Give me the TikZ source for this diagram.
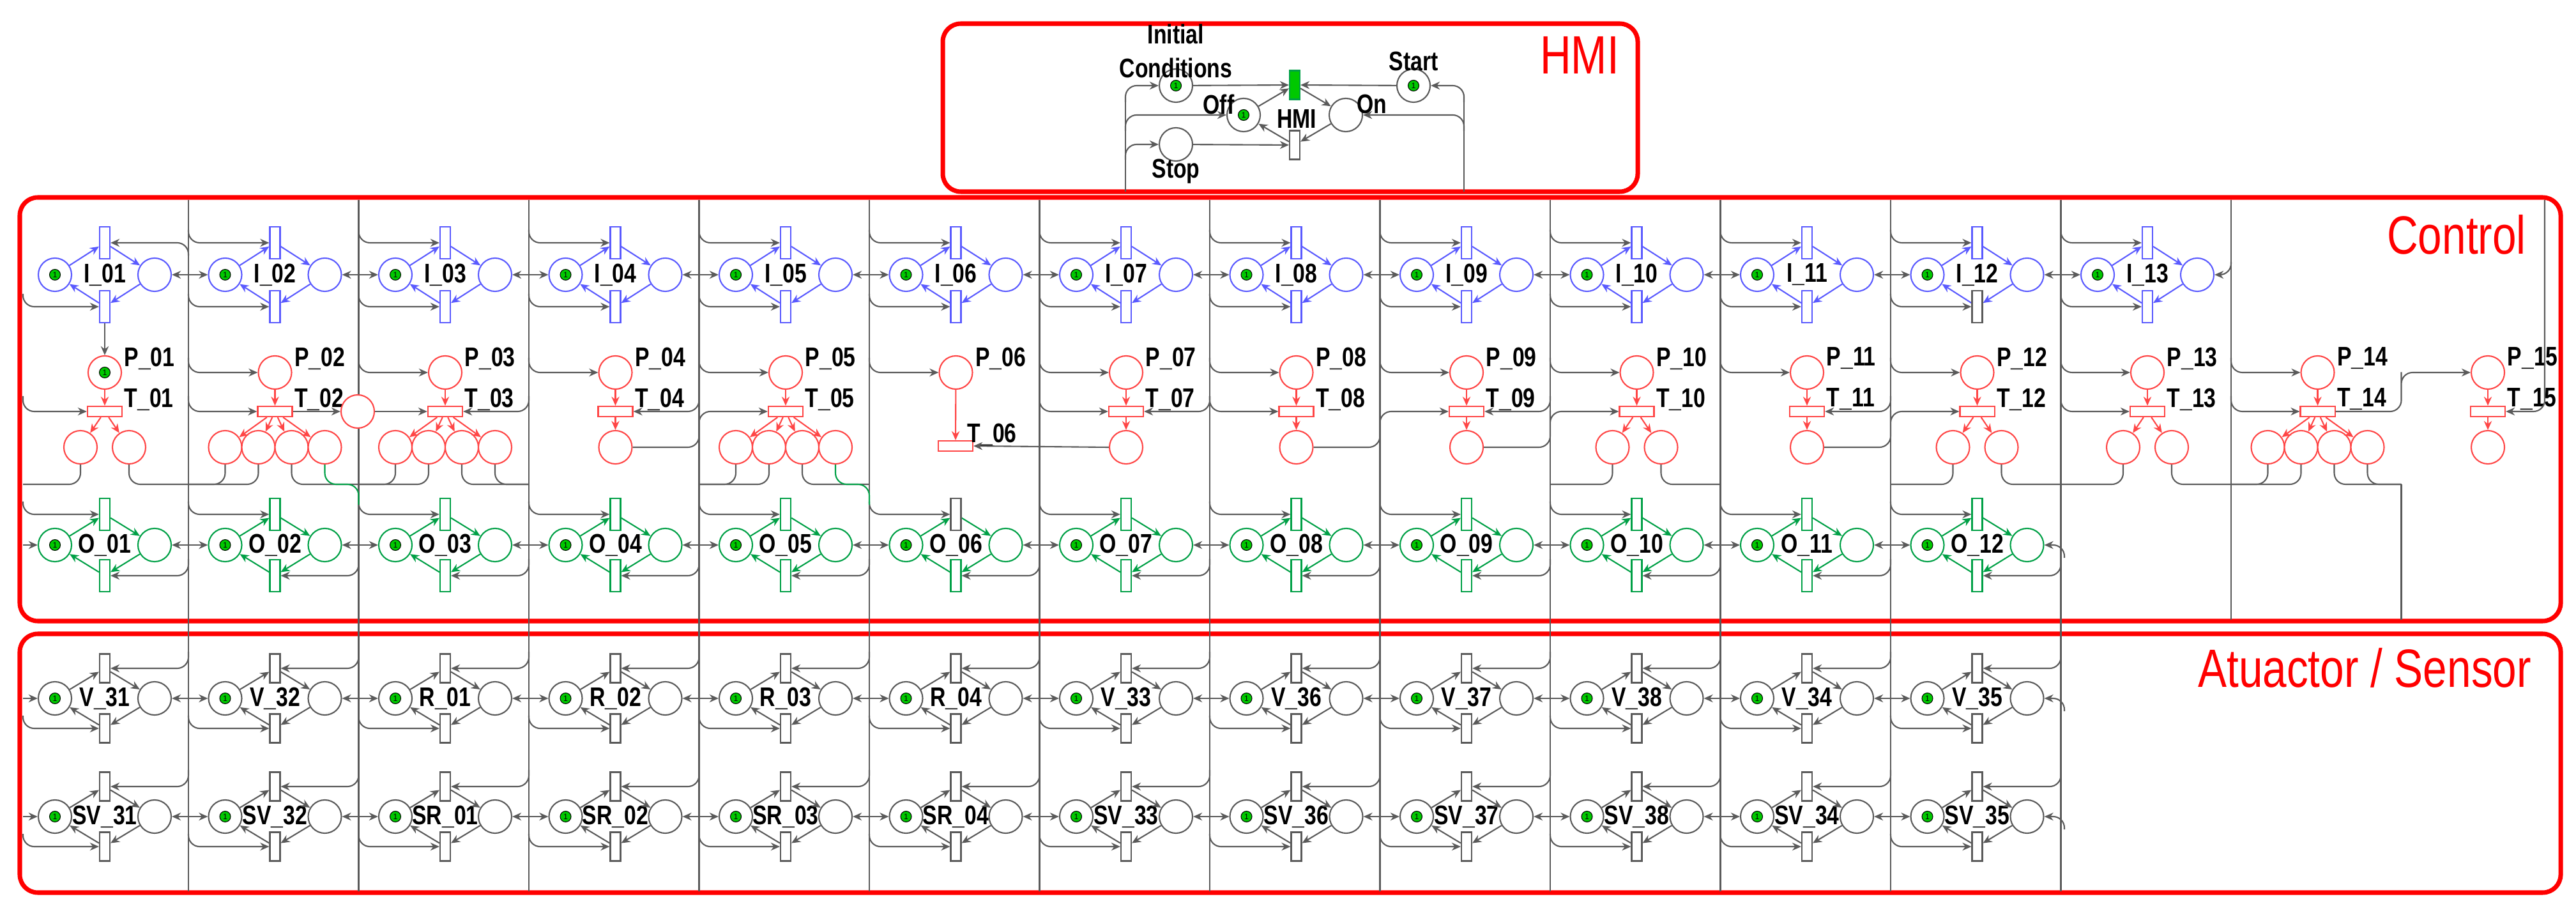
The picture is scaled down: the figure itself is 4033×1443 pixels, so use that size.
\documentclass[tikz,border=0pt]{standalone}
\usepackage{fontspec}
\setmainfont{Liberation Sans}
\newfontfamily\nar{Liberation Sans}[FakeStretch=0.8]
\usetikzlibrary{arrows.meta,calc}
\definecolor{ib}{RGB}{90,90,255}
\definecolor{pr}{RGB}{255,70,70}
\definecolor{og}{RGB}{0,160,70}
\definecolor{gw}{RGB}{90,90,90}
\definecolor{bx}{RGB}{255,0,0}
\definecolor{tk}{RGB}{0,200,0}
\tikzset{
 pl/.style={circle,draw,minimum size=0.52cm,inner sep=0pt,line width=0.6pt,fill=white},
 tok/.style={circle,draw=black,fill=tk,minimum size=0.17cm,inner sep=0pt,line width=0.3pt,font=\fontsize{3.5}{3.5}\selectfont},
 vt/.style={rectangle,draw,minimum width=0.16cm,inner sep=0pt,line width=0.6pt,fill=white},
 ht/.style={rectangle,draw,minimum width=0.54cm,minimum height=0.16cm,inner sep=0pt,line width=0.6pt,fill=white},
 arc/.style={-{Stealth[length=4pt,width=3.5pt]},line width=0.6pt},
 wire/.style={draw=gw,line width=0.6pt,rounded corners=5pt},
 warc/.style={wire,-{Stealth[length=4pt,width=3.5pt]},gw},
 lbl/.style={font=\nar\bfseries\fontsize{12}{12}\selectfont,inner sep=0pt},
 ttl/.style={font=\nar\fontsize{24}{24}\selectfont,text=bx,inner sep=0pt},
 box/.style={draw=bx,line width=2pt,rounded corners=8pt}
}
% #1 id, #2 x0, #3 y, #4 colour, #5 label, #6 offset, #7 trans height
\newcommand\mknet[7]{%
 \node[pl,draw=#4] (#1-a) at (#2,#3) {};
 \node[tok] (#1-k) at (#2,#3) {1};
 \node[pl,draw=#4] (#1-b) at ({#2+156},#3) {};
 \node[vt,draw=#4,minimum height=#7] (#1-t) at ({#2+78},{#3-#6}) {};
 \node[vt,draw=#4,minimum height=#7] (#1-u) at ({#2+78},{#3+#6}) {};
 \node[lbl] (#1-l) at ({#2+78},#3) {#5};
 \draw[arc,#4] (#1-a) -- (#1-t);
 \draw[arc,#4] (#1-t) -- (#1-b);
 \draw[arc,#4] (#1-b) -- (#1-u);
 \draw[arc,#4] (#1-u) -- (#1-a);
}
\begin{document}
\begin{tikzpicture}[x=0.01cm,y=-0.01cm]
\useasboundingbox (0,0) rectangle (4033,1443);
% boxes
\draw[box] (1476,37) rectangle (2564,300);
\draw[box] (31,309) rectangle (4009,972);
\draw[box] (31,992) rectangle (4009,1397);
\node[ttl] (tHMI) at (2473,86) {HMI};
\node[ttl] (tCtl) at (3846,367) {Control};
\node[ttl] (tAS) at (3702,1045) {Atuactor / Sensor};
% divider lines
\foreach \j in {1,...,12}{\pgfmathsetmacro\dx{295+266.5*(\j-1)}
 \draw[wire] (\dx,313) -- (\dx,1395);}
\draw[wire] (3493,313) -- (3493,970);
\draw[wire] (3759.5,758) -- (3759.5,970);
% ---------- HMI ----------
\node[pl,draw=gw] (ic) at (1841,134) {}; \node[tok] (ick) at (1841,134) {1};
\node[pl,draw=gw] (st) at (2213,134) {}; \node[tok] (stk) at (2213,134) {1};
\node[pl,draw=gw] (off) at (1947,180) {}; \node[tok] (offk) at (1947,180) {1};
\node[pl,draw=gw] (on) at (2107,180) {};
\node[pl,draw=gw] (stop) at (1841,226) {};
\node[vt,draw=og,fill=tk,minimum height=0.45cm] (h1) at (2027,133) {};
\node[vt,draw=gw,minimum height=0.45cm] (h2) at (2027,227) {};
\draw[arc,gw] (ic) -- (h1); \draw[arc,gw] (st) -- (h1);
\draw[arc,gw] (off) -- (h1); \draw[arc,gw] (h1) -- (on);
\draw[arc,gw] (on) -- (h2); \draw[arc,gw] (h2) -- (off);
\draw[arc,gw] (stop) -- (h2);
\draw[wire] (1762,154) -- (1762,300);
\draw[wire] (2292,154) -- (2292,300);
\draw[warc] (1762,160) |- (ic.west);
\draw[warc] (1762,205) |- (off.west);
\draw[warc] (1762,250) |- (stop.west);
\draw[warc] (2292,160) |- (st.east);
\draw[warc] (2292,205) |- (on.east);
\node[lbl,align=center] (lic) at (1841,80) {Initial\\[3pt]Conditions};
\node[lbl] (lst) at (2213,96) {Start};
\node[lbl] (loff) at (1908,163) {Off};
\node[lbl] (lon) at (2148,163) {On};
\node[lbl] (lhmi) at (2030,186) {HMI};
\node[lbl] (lstop) at (1841,268) {Stop};
% ---------- I row ----------
\foreach \k in {1,...,13}{\pgfmathsetmacro\xo{86+266.5*(\k-1)}
 \mknet{I\k}{\xo}{430}{ib}{I\_\ifnum\k<10 0\fi\k}{50}{0.5cm}}
\node[vt,draw=gw,minimum height=0.5cm] (I12-ug) at (I12-u) {};
\draw[warc] (295,400) |- (I1-t.east);
\draw[warc] (36,460) |- (I1-u.west);
\foreach \k in {2,...,13}{\pgfmathsetmacro\dl{86+266.5*(\k-1)-57.5}
 \draw[warc] (\dl,360) |- (I\k-t.west);
 \draw[warc] (\dl,460) |- (I\k-u.west);}
\foreach \k in {1,...,12}{\pgfmathsetmacro\dx{295+266.5*(\k-1)}\pgfmathtruncatemacro\kk{\k+1}
 \draw[warc] (\dx,430) -- (I\k-b); \draw[warc] (\dx,430) -- (I\kk-a);}
\draw[warc] (3493,410) |- (I13-b.east);
% ---------- O row ----------
\foreach \k in {1,...,12}{\pgfmathsetmacro\xo{86+266.5*(\k-1)}
 \mknet{O\k}{\xo}{853}{og}{O\_\ifnum\k<10 0\fi\k}{48}{0.5cm}}
\node[vt,draw=gw,minimum height=0.5cm] (O6-tg) at (O6-t) {};
\draw[warc] (36,785) |- (O1-t.west);
\draw[warc] (36,853) -- (O1-a);
\foreach \k in {2,...,12}{\pgfmathsetmacro\dl{86+266.5*(\k-1)-57.5}
 \draw[warc] (\dl,785) |- (O\k-t.west);}
\foreach \k in {1,...,12}{\pgfmathsetmacro\dr{86+266.5*(\k-1)+209}
 \draw[warc] (\dr,875) |- (O\k-u.east);}
\foreach \k in {1,...,11}{\pgfmathsetmacro\dx{295+266.5*(\k-1)}\pgfmathtruncatemacro\kk{\k+1}
 \draw[warc] (\dx,853) -- (O\k-b); \draw[warc] (\dx,853) -- (O\kk-a);}
\draw[warc] (3232,873) |- (O12-b.east);
% ---------- P / T row ----------
\foreach \k in {1,...,15}{\pgfmathsetmacro\xo{86+266.5*(\k-1)}
 \node[pl,draw=pr] (P\k) at ({\xo+78},583) {};
 \node[lbl,anchor=west] (P\k-l) at ({\xo+108},561) {P\_\ifnum\k<10 0\fi\k};}
\node[tok] (P1-k) at (P1) {1};
\foreach \k in {1,2,3,4,5,7,8,9,10,11,12,13,14,15}{\pgfmathsetmacro\xo{86+266.5*(\k-1)}
 \node[ht,draw=pr] (T\k) at ({\xo+78},644) {};
 \node[lbl,anchor=west] (T\k-l) at ({\xo+108},625) {T\_\ifnum\k<10 0\fi\k};
 \draw[arc,pr] (P\k) -- (T\k);}
\node[ht,draw=pr] (T6) at (1496,698) {};
\node[lbl,anchor=west] (T6-l) at (1514,680) {T\_06};
\draw[arc,pr] (P6) -- (T6);
\draw[arc,gw] (I1-u) -- (P1);
% P inputs
\foreach \k in {2,...,14}{\pgfmathsetmacro\dl{86+266.5*(\k-1)-57.5}
 \draw[warc] (\dl,560) |- (P\k.west);}
\draw[warc] (T14.east) -| (3759.5,600) |- (P15.west);
\draw[warc] (3984,313) |- (T15.east);
% T inputs
\draw[warc] (36,620) |- (T1.west);
\foreach \k in {2,7,8,13,14}{\pgfmathsetmacro\dl{86+266.5*(\k-1)-57.5}
 \draw[warc] (\dl,620) |- (T\k.west);}
\foreach \k in {3,4,7,9,11}{\pgfmathsetmacro\dr{86+266.5*(\k-1)+209}
 \draw[warc] (\dr,620) |- (T\k.east);}
% outputs
\foreach \k in {4,7,8,9,11,15}{
 \node[pl,draw=pr] (P\k-o1) at ($(T\k)+(0,56)$) {};
 \draw[arc,pr] (T\k) -- (P\k-o1);}
\foreach \k in {1,10,12,13}{\pgfmathsetmacro\xo{86+266.5*(\k-1)}
 \node[pl,draw=pr] (P\k-o1) at ({\xo+40},700) {};
 \node[pl,draw=pr] (P\k-o2) at ({\xo+116},700) {};
 \draw[arc,pr] (T\k) -- (P\k-o1); \draw[arc,pr] (T\k) -- (P\k-o2);
 \pgfmathsetmacro\dl{ifthenelse(\k==1,36,\xo-57.5)}
 \draw[wire] (P\k-o1.south) |- (\dl,758);
 \draw[wire] (P\k-o2.south) |- ({\xo+209},758);}
\foreach \k in {2,3,5,14}{\pgfmathsetmacro\xo{86+266.5*(\k-1)}
 \foreach \i/\o in {1/-78,2/-26,3/26,4/78}{
  \node[pl,draw=pr] (P\k-o\i) at ({\xo+78+\o},700) {};}
 \foreach \i in {1,...,4}{\draw[arc,pr] (T\k) -- (P\k-o\i);}
 \draw[wire] (P\k-o1.south) |- ({\xo-57.5},758);
 \draw[wire] (P\k-o2.south) |- ({\xo-57.5},758);
 \draw[wire] (P\k-o3.south) |- ({\xo+209},758);}
\draw[wire] (P3-o4.south) |- (828,758);
\draw[wire] (P14-o4.south) |- (3759.5,758);
\draw[wire,og] (P2-o4.south) |- (561.5,758) -- (561.5,790);
\draw[wire,og] (P5-o4.south) |- (1361,758) -- (1361,790);
% extra place after T_02
\node[pl,draw=pr] (X2) at (560,644) {};
\draw[warc] (T2.east) -- (X2);
\draw[warc] (X2) -- (T3.west);
% single output chains
\draw[warc] (P4-o1.east) -| (1094.5,660) |- (T5.west);
\draw[warc] (P7-o1.west) -- (T6.east);
\draw[warc] (P8-o1.east) -| (2160.5,660) |- (T9.west);
\draw[warc] (P9-o1.east) -| (2427,660) |- (T10.west);
\draw[warc] (P11-o1.east) -| (2960,660) |- (T12.west);
% ---------- Actuator / Sensor ----------
\foreach \k/\n/\m in {1/V\_31/SV\_31,2/V\_32/SV\_32,3/R\_01/SR\_01,4/R\_02/SR\_02,5/R\_03/SR\_03,6/R\_04/SR\_04,7/V\_33/SV\_33,8/V\_36/SV\_36,9/V\_37/SV\_37,10/V\_38/SV\_38,11/V\_34/SV\_34,12/V\_35/SV\_35}{
 \pgfmathsetmacro\xo{86+266.5*(\k-1)}
 \mknet{V\k}{\xo}{1093}{gw}{\n}{47}{0.45cm}
 \mknet{S\k}{\xo}{1278}{gw}{\m}{47}{0.45cm}
 \pgfmathsetmacro\dr{\xo+209}
 \draw[warc] (\dr,1020) |- (V\k-t.east);
 \draw[warc] (\dr,1205) |- (S\k-t.east);
 \pgfmathsetmacro\dl{ifthenelse(\k==1,36,\xo-57.5)}
 \draw[warc] (\dl,1120) |- (V\k-u.west);
 \draw[warc] (\dl,1305) |- (S\k-u.west);}
\foreach \k in {1,...,11}{\pgfmathsetmacro\dx{295+266.5*(\k-1)}\pgfmathtruncatemacro\kk{\k+1}
 \draw[warc] (\dx,1093) -- (V\k-b); \draw[warc] (\dx,1093) -- (V\kk-a);
 \draw[warc] (\dx,1278) -- (S\k-b); \draw[warc] (\dx,1278) -- (S\kk-a);}
\draw[warc] (36,1093) -- (V1-a);
\draw[warc] (36,1278) -- (S1-a);
\draw[warc] (3232,1113) |- (V12-b.east);
\draw[warc] (3232,1298) |- (S12-b.east);
\end{tikzpicture}
\end{document}
